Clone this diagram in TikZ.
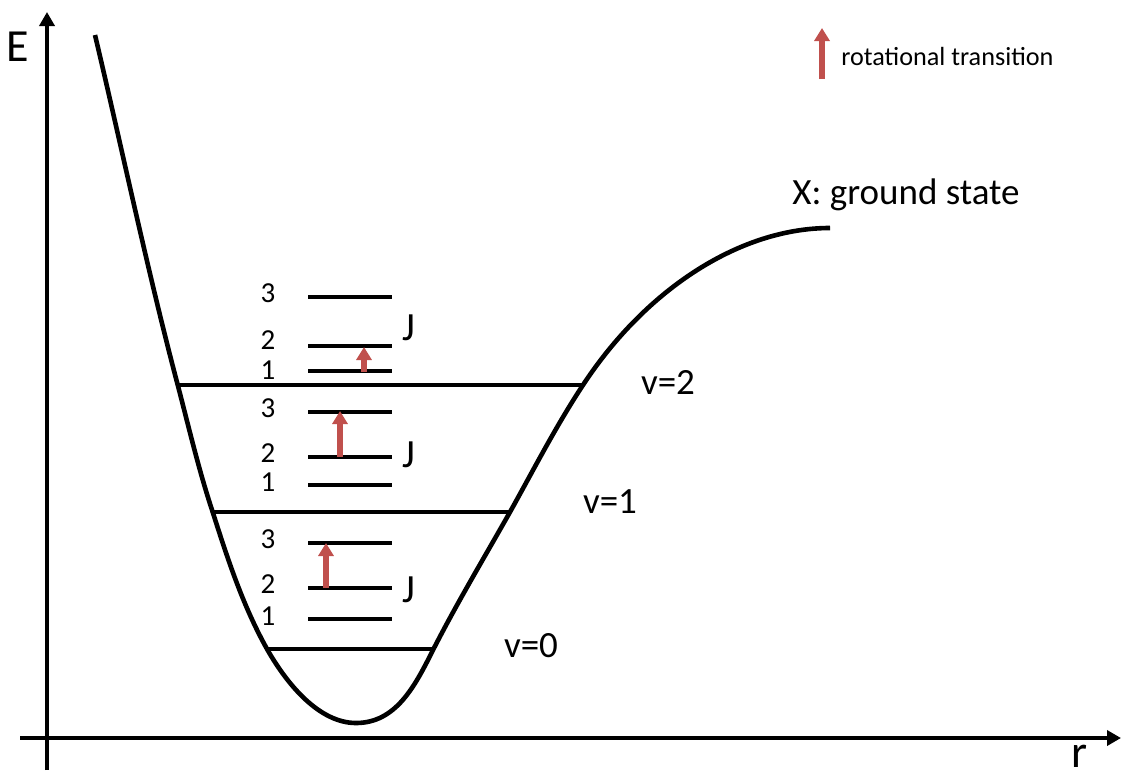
\documentclass[tikz,border=0pt]{standalone}
\usepackage{fontspec}
\setmainfont{Carlito}
\usepackage{xcolor}
\usetikzlibrary{arrows.meta}

\definecolor{transred}{HTML}{C0504D}

\tikzset{
    axis/.style={line width=2pt, -{Triangle[width=7.5pt,length=7pt]}},
    well/.style={line width=2.3pt, line join=round},
    vlevel/.style={line width=1.9pt},
    jlevel/.style={line width=2.1pt},
    transition/.style={transred, line width=3pt, -{Triangle[width=7.5pt,length=6.5pt]}},
    jnum/.style={font=\fontsize{14.5}{16}\selectfont, inner sep=0pt},
    vlabel/.style={font=\fontsize{18.5}{20}\selectfont, inner sep=0pt}
}

\begin{document}
\begin{tikzpicture}[x=0.5pt, y=-0.5pt]
    \useasboundingbox (0,0) rectangle (1122,776);

    % Axes
    \coordinate (ybot) at (47,770);
    \coordinate (ytop) at (47,12);
    \coordinate (xleft) at (20,738);
    \coordinate (xright) at (1121,738);
    \draw[axis] (ybot) -- (ytop);
    \draw[axis] (xleft) -- (xright);
    \node[font=\fontsize{23}{25}\selectfont, inner sep=0pt] (elabel) at (18,47) {E};
    \node[font=\fontsize{23}{25}\selectfont, inner sep=0pt] (rlabel) at (1079,756) {r};

    % Potential well
    \draw[well] (95,35)
        .. controls (122,149) and (148,273) .. (178,386)
        .. controls (189,428) and (199,471) .. (213,513)
        .. controls (228,560) and (243,606) .. (267,649)
        .. controls (288,686) and (320,723) .. (356,723)
        .. controls (396,723) and (415,686) .. (433,650)
        .. controls (457,603) and (484,558) .. (510,512)
        .. controls (534,469) and (556,426) .. (583,385)
        .. controls (646,289) and (740,228) .. (830,228);
    \node[vlabel] (xstate) at (906,195) {X: ground state};

    % Vibrational levels
    \foreach \v/\y/\xl/\xr/\lx/\ly in {
        2/385/177/583/668/382,
        1/512/213/510/610/502,
        0/649/267/433/531/646
    } {
        \draw[vlevel] (\xl,\y) -- (\xr,\y);
        \node[vlabel] (v\v) at (\lx,\ly) {v=\v};
    }

    % Rotational levels (label offsets per group)
    \foreach \g/\ya/\yb/\yc/\yj/\da/\db in {
        top/371/346/297/328/-1/-6,
        mid/485/457/412/455/-3/-4,
        low/619/588/543/590/-3/-4
    } {
        \draw[jlevel] (308,\ya) -- (392,\ya);
        \draw[jlevel] (308,\yb) -- (392,\yb);
        \draw[jlevel] (308,\yc) -- (392,\yc);
        \node[jnum] (\g-1) at (268,\ya+\da) {1};
        \node[jnum] (\g-2) at (268,\yb+\db) {2};
        \node[jnum] (\g-3) at (268,\yc-4) {3};
        \node[font=\fontsize{20}{22}\selectfont, inner sep=0pt] (\g-j) at (409,\yj) {J};
    }

    % Rotational transitions
    \foreach \g/\x/\yfrom/\yto in {top/364/372/347, mid/340/457/411, low/326/588/543} {
        \coordinate (\g-from) at (\x,\yfrom);
        \coordinate (\g-to) at (\x,\yto);
        \draw[transition] (\g-from) -- (\g-to);
    }

    % Legend
    \coordinate (key-from) at (822,79);
    \coordinate (key-to) at (822,28);
    \draw[transition] (key-from) -- (key-to);
    \node[anchor=west, font=\fontsize{13.1}{15}\selectfont, inner sep=0pt] (keytext) at (841,56) {rotational transition};
\end{tikzpicture}
\end{document}
